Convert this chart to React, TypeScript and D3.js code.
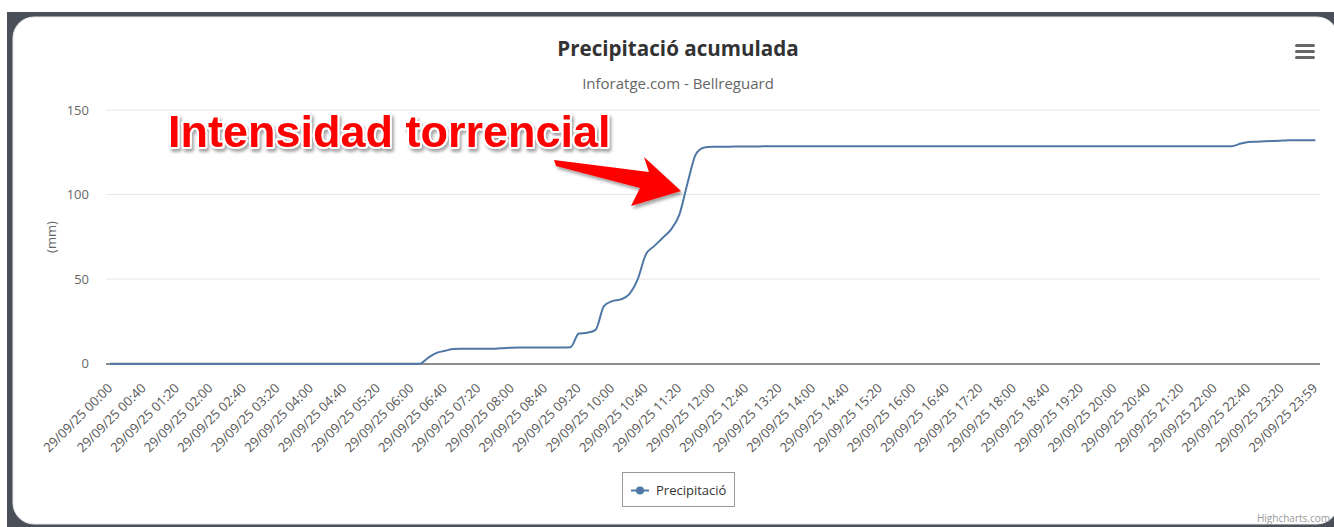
import React from "react";
import * as d3 from "d3";

// 10-minute readings for 29/09/25, last one at 23:59
const pad = (n: number) => String(n).padStart(2, "0");
const times: string[] = d3
  .range(144)
  .map((i) => `${pad(Math.floor(i / 6))}:${pad((i % 6) * 10)}`)
  .concat(["23:59"]);
const categories = times.map((t) => `29/09/25 ${t}`);

// accumulated precipitation (mm)
const rainfall = [
  0, 0, 0, 0, 0, 0, 0, 0, 0, 0,
  0, 0, 0, 0, 0, 0, 0, 0, 0, 0,
  0, 0, 0, 0, 0, 0, 0, 0, 0, 0,
  0, 0, 0, 0, 0, 0, 0, 0, 3.5, 6.4,
  7.6, 8.7, 8.8, 8.8, 8.8, 8.8, 8.9, 9.2, 9.5, 9.6,
  9.6, 9.6, 9.6, 9.6, 9.6, 9.7, 17.8, 18.3, 20, 34,
  37, 38, 41, 49.5, 64.5, 69.5, 74.3, 79.3, 88, 107,
  124, 127.8, 128.2, 128.3, 128.3, 128.4, 128.4, 128.4, 128.5, 128.5,
  128.6, 128.6, 128.6, 128.6, 128.6, 128.6, 128.6, 128.6, 128.6, 128.6,
  128.6, 128.6, 128.6, 128.6, 128.6, 128.6, 128.6, 128.6, 128.6, 128.6,
  128.6, 128.6, 128.6, 128.6, 128.6, 128.6, 128.6, 128.6, 128.6, 128.6,
  128.6, 128.6, 128.6, 128.6, 128.6, 128.6, 128.6, 128.6, 128.6, 128.6,
  128.6, 128.6, 128.6, 128.6, 128.6, 128.6, 128.6, 128.6, 128.6, 128.6,
  128.6, 128.6, 128.6, 128.6, 128.6, 130, 131.1, 131.3, 131.5, 131.7,
  131.9, 132.1, 132.1, 132.1, 132.1,
];

const yTicks = [0, 50, 100, 150];
const labelStep = 4;

const title = "Precipitació acumulada";
const subtitle = "Inforatge.com - Bellreguard";
const seriesName = "Precipitació";
const annotation = "Intensidad torrencial";

const W = 1334;
const H = 527;
const plot = { left: 106, right: 1319.5, top: 110, bottom: 363.7 };
const color = "#4f77a5";
const font = "'Open Sans', 'DejaVu Sans', sans-serif";

export default function App() {
  const x = d3
    .scaleBand<string>()
    .domain(categories)
    .range([plot.left, plot.right]);
  const cx = (c: string) => (x(c) ?? 0) + x.bandwidth() / 2;

  const y = d3.scaleLinear().domain([0, 150]).range([plot.bottom, plot.top]);

  const line = d3
    .line<number>()
    .x((_, i) => cx(categories[i]))
    .y((d) => y(d))
    .curve(d3.curveMonotoneX);

  const tickCats = categories.filter((_, i) => i % labelStep === 0);

  return (
    <svg
      width={W}
      height={H}
      style={{ position: "absolute", left: 0, top: 0, background: "#fff" }}
      fontFamily={font}
    >
      <defs>
        <filter id="shadow" x="-10%" y="-30%" width="130%" height="170%">
          <feDropShadow dx="2" dy="3" stdDeviation="1.6" floodColor="#000" floodOpacity="0.35" />
        </filter>
      </defs>

      {/* page frame + card */}
      <rect x={7} y={12} width={W} height={H} fill="#4a505a" />
      <rect x={13} y={17} width={1325} height={507} rx={21} fill="#fff" stroke="#e8e8e8" />

      {/* titles */}
      <text x={678} y={56} textAnchor="middle" fontSize={20.6} fontWeight="bold" fill="#333">
        {title}
      </text>
      <text x={678} y={89} textAnchor="middle" fontSize={15} fill="#666">
        {subtitle}
      </text>

      {/* menu icon */}
      {[44, 50, 56].map((yy) => (
        <rect key={yy} x={1295} y={yy} width={20} height={3} rx={1.5} fill="#666" />
      ))}

      {/* grid + y labels */}
      {yTicks.map((t) => (
        <g key={t}>
          {t > 0 && (
            <line x1={plot.left} x2={1320} y1={y(t)} y2={y(t)} stroke="#e6e6e6" />
          )}
          <text x={89} y={y(t)} dy="0.35em" textAnchor="end" fontSize={13} fill="#666">
            {t}
          </text>
        </g>
      ))}
      <text
        transform={`translate(51,237) rotate(-90)`}
        textAnchor="middle"
        dy="0.35em"
        fontSize={13}
        fill="#666"
      >
        (mm)
      </text>

      {/* x axis */}
      <line x1={plot.left} x2={1320} y1={364} y2={364} stroke="#666" strokeWidth={1.5} />
      {tickCats.map((c) => (
        <text
          key={c}
          transform={`translate(${cx(c) + 3},389) rotate(-45)`}
          textAnchor="end"
          fontSize={13}
          fill="#555"
        >
          {c}
        </text>
      ))}

      {/* series */}
      <path d={line(rainfall) ?? ""} fill="none" stroke={color} strokeWidth={2} strokeLinejoin="round" />

      {/* annotation */}
      <text
        x={168}
        y={147}
        fontFamily="'Liberation Sans', Arial, sans-serif"
        fontWeight="bold"
        fontSize={45}
        fill="#ff0000"
        stroke="#fff"
        strokeWidth={4}
        strokeLinejoin="round"
        paintOrder="stroke"
        filter="url(#shadow)"
      >
        {annotation}
      </text>
      <polygon
        points="554,160 649,172 644,157 681,191 631,206 640,188 556,166"
        fill="#ff0000"
        filter="url(#shadow)"
      />

      {/* legend */}
      <rect x={622.5} y={472.5} width={112} height={34} fill="#fff" stroke="#999" />
      <line x1={631} x2={649} y1={490.5} y2={490.5} stroke={color} strokeWidth={2} />
      <circle cx={640} cy={490.5} r={4} fill={color} />
      <text x={656} y={495} fontSize={13} fill="#333">
        {seriesName}
      </text>

      {/* credits */}
      <text x={1330} y={522} textAnchor="end" fontSize={10} fill="#999">
        Highcharts.com
      </text>
    </svg>
  );
}
